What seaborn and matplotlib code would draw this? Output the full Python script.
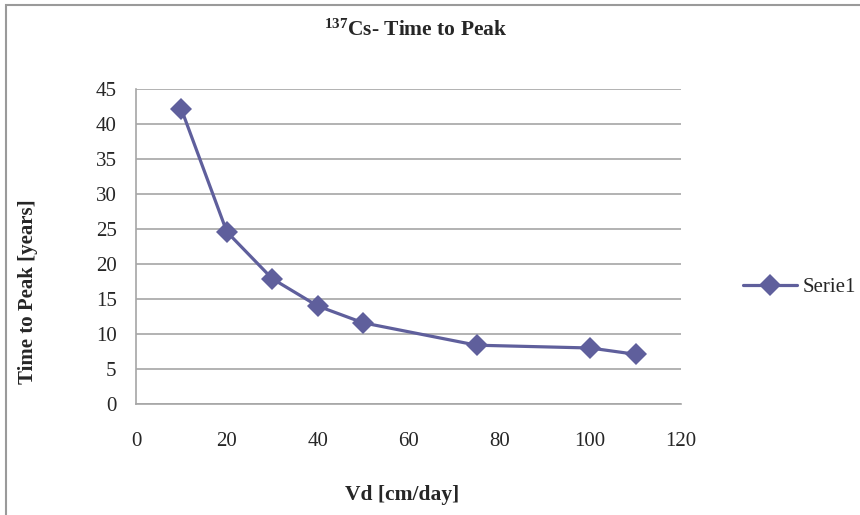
import matplotlib
matplotlib.use('Agg')
import matplotlib.pyplot as plt
import matplotlib.patches as patches
import seaborn as sns
import pandas as pd

# Data
vd = [10, 20, 30, 40, 50, 75, 100, 110]
time_to_peak = [42.1, 24.6, 17.9, 14.0, 11.6, 8.4, 8.0, 7.1]
series_name = 'Serie1'

df = pd.DataFrame({'Vd': vd, 'Time': time_to_peak, 'series': series_name})

sns.set_style('white')
plt.rcParams['font.family'] = ['Liberation Serif', 'DejaVu Serif']
plt.rcParams['mathtext.fontset'] = 'custom'
plt.rcParams['mathtext.rm'] = 'Liberation Serif:bold'
plt.rcParams['mathtext.bf'] = 'Liberation Serif:bold'
plt.rcParams['mathtext.it'] = 'Liberation Serif:bold'

line_color = '#5F5F9C'
grid_color = '#A6A6A6'

fig = plt.figure(figsize=(8.6, 5.15), dpi=100)
ax = fig.add_axes([136 / 860, 111 / 515, 545 / 860, 315 / 515])

sns.lineplot(data=df, x='Vd', y='Time', hue='series', palette=[line_color],
             marker='D', markersize=11, linewidth=2.3, markeredgewidth=0,
             ax=ax)

ax.set_xlim(0, 120)
ax.set_ylim(0, 45)
ax.set_xticks(range(0, 121, 20))
ax.set_yticks(range(0, 46, 5))
ax.tick_params(axis='both', labelsize=15, length=0)
ax.tick_params(axis='x', pad=20)
ax.tick_params(axis='y', pad=14)
ax.yaxis.grid(True, color=grid_color, linewidth=1.2)
ax.set_axisbelow(True)
for side in ['top', 'right']:
    ax.spines[side].set_visible(False)
for side in ['left', 'bottom']:
    ax.spines[side].set_color(grid_color)
    ax.spines[side].set_linewidth(1.2)
ax.set_xlabel('')
ax.set_ylabel('')

# Titles and axis labels
fig.text(416 / 860, 1 - 30 / 515, '$^{137}$Cs- Time to Peak', ha='center',
         va='center', fontsize=15.5, fontweight='bold')
fig.text(402 / 860, 1 - 495 / 515, 'Vd [cm/day]', ha='center', va='center',
         fontsize=15.5, fontweight='bold')
fig.text(28 / 860, 1 - 292 / 515, 'Time to Peak [years]', ha='center',
         va='center', rotation=90, fontsize=15, fontweight='bold')

# Legend on the right
ax.legend(loc='center left', bbox_to_anchor=(724 / 860, 1 - 287 / 515),
          bbox_transform=fig.transFigure, frameon=False, fontsize=15,
          handlelength=2.6, handletextpad=0.25)

# Chart border
fig.patches.append(patches.Rectangle((6 / 860, -0.1), 1.2, 1 - 5 / 515 + 0.1,
                                     transform=fig.transFigure, fill=False,
                                     edgecolor='#9A9A9A', linewidth=1.5))

plt.savefig('out.png', dpi=100)
